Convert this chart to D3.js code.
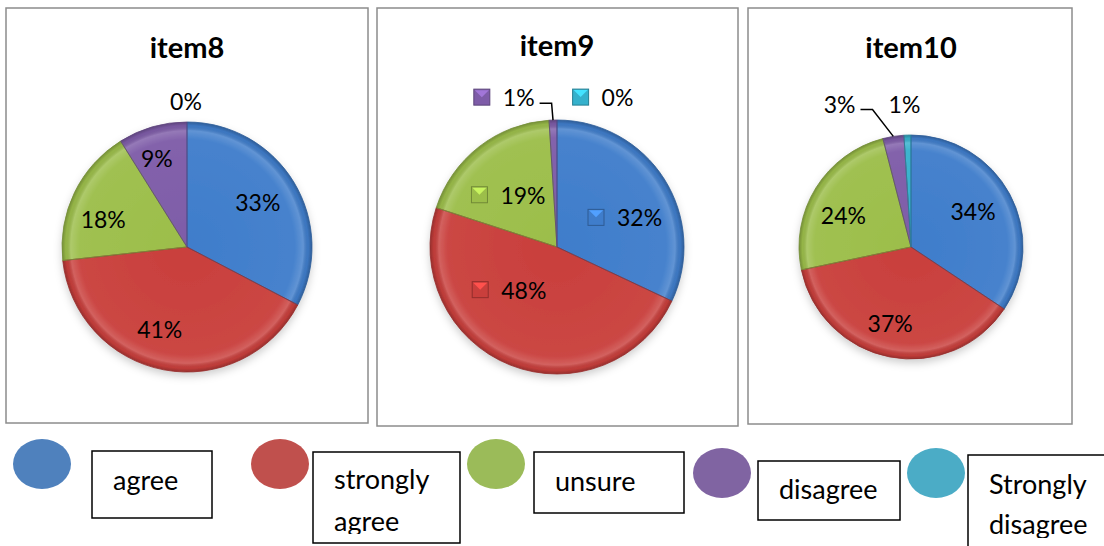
<!DOCTYPE html>
<html>
<head>
<meta charset="utf-8">
<script src="https://cdn.jsdelivr.net/npm/d3@7"></script>
<style>
  html, body { margin: 0; padding: 0; background: #fff; }
  svg text { font-family: Lato, "Open Sans", sans-serif; fill: #000; }
</style>
</head>
<body>
<svg id="chart" width="1104" height="546"></svg>
<script>
// ---- data ----
const categories = ['agree', 'strongly agree', 'unsure', 'disagree', 'Strongly disagree'];
const titles = ['item8', 'item9', 'item10'];
const item8 = [33, 41, 18, 9, 0];
const item9 = [32, 48, 19, 1, 0];
const item10 = [34, 37, 24, 3, 1];
const legendLines = [['agree'], ['strongly', 'agree'], ['unsure'], ['disagree'], ['Strongly', 'disagree']];

// ---- colours ----
const sliceColors = ['#3f7dcb', '#c93f3c', '#9cbe4a', '#7e5ca8', '#35b1cc'];
const legendColors = ['#4f81bd', '#c0504d', '#9bbb59', '#8064a2', '#4bacc6'];

// ---- layout ----
const panels = [
  { x: 6, y: 8, w: 362, h: 415, cx: 187, cy: 247, r: 125, titleY: 58, keys: false, leader: -1,
    nudge: [[-4, 0], [-11, -4], [-5, 10], [-6, -5], [-1, -59]] },
  { x: 377, y: 8, w: 361, h: 418, cx: 557, cy: 247, r: 127, titleY: 56, keys: true, leader: 3,
    nudge: [[-7, 18], [-15, -40], [6, 18], [-50, -61], [46, -61]] },
  { x: 748, y: 8, w: 324, h: 416, cx: 911, cy: 247, r: 112, titleY: 58, keys: false, leader: 3,
    nudge: [[-7, 1], [-6, -1], [-1, 9], [-59, -66], [-4, -65]] }
];
const legendItems = [
  { ex: 42, ey: 464, bx: 92, by: 451, bw: 120, bh: 67, tx: 113, ty: [490], clip: 546 },
  { ex: 280, ey: 464, bx: 313, by: 452, bw: 147, bh: 91, tx: 334, ty: [489, 531], clip: 534 },
  { ex: 496, ey: 464, bx: 534, by: 452, bw: 150, bh: 61, tx: 555, ty: [491], clip: 546 },
  { ex: 722, ey: 473, bx: 758, by: 461, bw: 142, bh: 59, tx: 779, ty: [499], clip: 546 },
  { ex: 936, ey: 473, bx: 968, by: 455, bw: 160, bh: 100, tx: 989, ty: [494, 534], clip: 538 }
];

const svg = d3.select('#chart');
const defs = svg.append('defs');

const shadow = defs.append('filter').attr('id', 'shadow')
  .attr('x', '-20%').attr('y', '-20%').attr('width', '140%').attr('height', '140%');
shadow.append('feDropShadow').attr('dx', 0).attr('dy', 4).attr('stdDeviation', 4)
  .attr('flood-color', '#000').attr('flood-opacity', 0.2);

const pie = d3.pie().sort(null).value(d => d);
const seriesList = [item8, item9, item10];

function polar(a, rad) {
  return [Math.sin(a) * rad, -Math.cos(a) * rad];
}

seriesList.forEach((series, pi) => {
  const p = panels[pi];
  const g = svg.append('g');

  g.append('rect')
    .attr('x', p.x).attr('y', p.y).attr('width', p.w).attr('height', p.h)
    .attr('fill', '#fff').attr('stroke', '#8c8c8c').attr('stroke-width', 1.5);

  g.append('text')
    .attr('x', p.cx).attr('y', p.titleY)
    .attr('text-anchor', 'middle')
    .attr('font-size', 29).attr('font-weight', 'bold')
    .text(titles[pi]);

  // rim gradient gives the bevelled look
  const rimId = 'rim' + pi;
  const rim = defs.append('radialGradient').attr('id', rimId)
    .attr('gradientUnits', 'userSpaceOnUse')
    .attr('cx', 0).attr('cy', 0).attr('r', p.r);
  rim.append('stop').attr('offset', 0).attr('stop-color', '#fff').attr('stop-opacity', 0);
  rim.append('stop').attr('offset', 0.86).attr('stop-color', '#fff').attr('stop-opacity', 0.04);
  rim.append('stop').attr('offset', 0.93).attr('stop-color', '#fff').attr('stop-opacity', 0.18);
  rim.append('stop').attr('offset', 0.97).attr('stop-color', '#000').attr('stop-opacity', 0.05);
  rim.append('stop').attr('offset', 1).attr('stop-color', '#000').attr('stop-opacity', 0.25);

  const arcs = pie(series);
  const arc = d3.arc().innerRadius(0).outerRadius(p.r);

  const pg = g.append('g')
    .attr('transform', `translate(${p.cx},${p.cy})`)
    .attr('filter', 'url(#shadow)');

  arcs.forEach((d, i) => {
    if (d.endAngle - d.startAngle <= 0) return;
    const clipId = `clip${pi}_${i}`;
    defs.append('clipPath').attr('id', clipId)
      .append('path').attr('d', arc(d)).attr('transform', `translate(${p.cx},${p.cy})`);
    pg.append('path').attr('d', arc(d)).attr('fill', sliceColors[i]);
    pg.append('path').attr('d', arc(d)).attr('fill', `url(#${rimId})`);
    // inner highlight along the slice edges
    g.append('path').attr('d', arc(d))
      .attr('transform', `translate(${p.cx},${p.cy})`)
      .attr('clip-path', `url(#${clipId})`)
      .attr('fill', 'none').attr('stroke', '#fff').attr('stroke-opacity', 0.16)
      .attr('stroke-width', 12);
    g.append('path').attr('d', arc(d))
      .attr('transform', `translate(${p.cx},${p.cy})`)
      .attr('fill', 'none').attr('stroke', d3.color(sliceColors[i]).darker(0.8))
      .attr('stroke-width', 0.8);
  });

  // data labels
  arcs.forEach((d, i) => {
    const mid = (d.startAngle + d.endAngle) / 2;
    const c = polar(mid, p.r * 0.7);
    const ax = p.cx + c[0] + p.nudge[i][0];
    const ay = p.cy + c[1] + p.nudge[i][1];
    const lbl = g.append('g');
    const txt = lbl.append('text')
      .attr('font-size', 23)
      .attr('dominant-baseline', 'central')
      .text(series[i] + '%');
    const tw = txt.node().getComputedTextLength();
    let left;
    if (p.keys) {
      const gw = 29 + tw;
      left = ax - gw / 2;
      const col = d3.color(sliceColors[i]);
      lbl.append('rect')
        .attr('x', left).attr('y', ay - 8).attr('width', 16).attr('height', 16)
        .attr('fill', col.formatHex()).attr('stroke', col.darker(0.9)).attr('stroke-width', 1);
      lbl.append('path')
        .attr('d', `M${left + 1},${ay - 7}L${left + 15},${ay - 7}L${left + 8},${ay}Z`)
        .attr('fill', col.brighter(0.7));
      txt.attr('x', left + 29).attr('y', ay);
    } else {
      left = ax - tw / 2;
      txt.attr('x', left).attr('y', ay);
    }
    txt.raise();

    if (i === p.leader) {
      const edge = polar(mid, p.r);
      const sx = left + (p.keys ? 29 : 0) + tw + 5;
      const sy = ay + 6;
      g.append('path')
        .attr('d', `M${sx},${sy}H${sx + 12}L${p.cx + edge[0]},${p.cy + edge[1]}`)
        .attr('fill', 'none').attr('stroke', '#000').attr('stroke-width', 1.5);
    }
  });
});

// ---- legend ----
const lg = svg.append('g');
legendItems.forEach((it, i) => {
  lg.append('ellipse')
    .attr('cx', it.ex).attr('cy', it.ey).attr('rx', 29).attr('ry', 25)
    .attr('fill', legendColors[i]);
  lg.append('rect')
    .attr('x', it.bx).attr('y', it.by).attr('width', it.bw).attr('height', it.bh)
    .attr('fill', '#fff').attr('stroke', '#000').attr('stroke-width', 1.5);
  const clipId = 'lclip' + i;
  defs.append('clipPath').attr('id', clipId)
    .append('rect').attr('x', it.bx).attr('y', it.by).attr('width', it.bw)
    .attr('height', it.clip - it.by);
  const tg = lg.append('g').attr('clip-path', `url(#${clipId})`);
  legendLines[i].forEach((line, li) => {
    tg.append('text')
      .attr('x', it.tx).attr('y', it.ty[li])
      .attr('font-size', 27)
      .text(line);
  });
});
</script>
</body>
</html>
